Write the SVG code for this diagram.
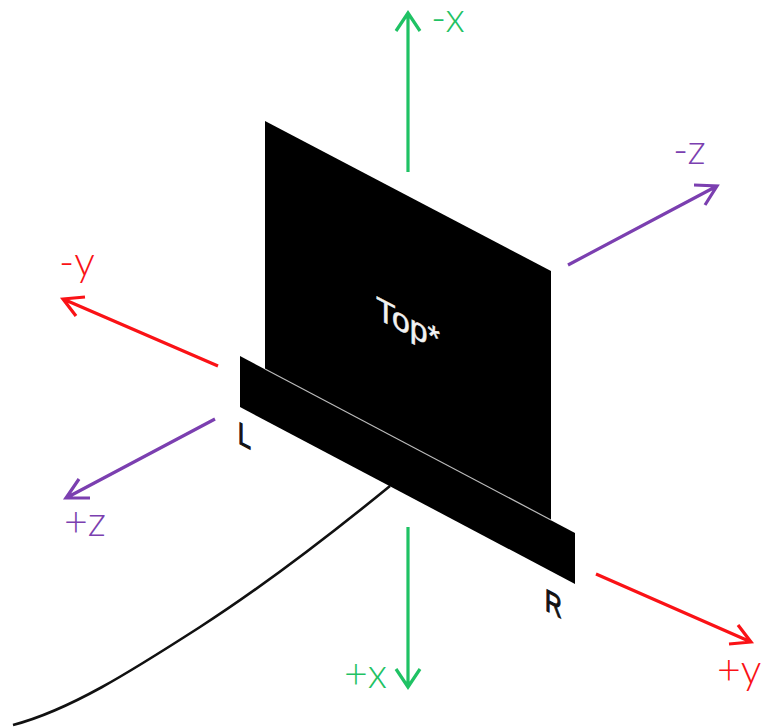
<svg xmlns="http://www.w3.org/2000/svg" width="761" height="727" viewBox="0 0 761 727">
<defs>
<style>
text{font-family:"Liberation Sans",Arimo,sans-serif}
.ax{fill:none;stroke-width:3.2;stroke-linecap:butt;stroke-linejoin:miter}
.g{stroke:#1fc264}.r{stroke:#fa1216}.p{stroke:#7b3fb0}
.tg{fill:#1fc264}.tr{fill:#fa1216}.tp{fill:#7b3fb0}
.l{font-family:Lato,"Open Sans",sans-serif;font-size:41px;font-weight:300}
.b{font-size:31px;font-weight:400;fill:#111;stroke:#111;stroke-width:1.2}
</style>
</defs>
<rect width="761" height="727" fill="#fff"/>
<g id="connectors">
<path class="ax g" d="M408 172V14M396 31L408 13L420 31"/>
<path class="ax g" d="M408 527V686M396 669L408 687L420 669"/>
<path class="ax p" d="M568 265L717 186M694 185L717 186L705 205"/>
<path class="ax p" d="M215 419L66 498M90 498L66 498L79 479"/>
<path class="ax r" d="M218 366L63 299M85 297L63 299L76 316"/>
<path class="ax r" d="M596 574L751 642M729 644L751 642L738 625"/>
<path d="M13 725C70 710 130 672 200 627C262 587 330 535 390 486" fill="none" stroke="#111" stroke-width="2.6"/>
</g>
<g id="top-panel">
<polygon points="265,121 551,271 551,521 265,371" fill="#000"/>
<text transform="matrix(1,.52,0,1,376,318)" font-size="32" fill="#f2f2f2" stroke="#f2f2f2" stroke-width=".5">Top*</text>
</g>
<g id="bar">
<polygon points="240,356 575,533 575,584 240,407" fill="#000"/>
<line x1="265" y1="369" x2="551" y2="520" stroke="#bbb" stroke-width="1.2"/>
<text class="b" transform="matrix(.75,.39,0,1,238,443)">L</text>
<text class="b" transform="matrix(.75,.39,0,1,545,610)">R</text>
</g>
<g id="axis-labels">
<text class="l tg" x="431" y="32">-x</text>
<text class="l tg" x="344" y="688">+x</text>
<text class="l tp" x="673" y="164">-z</text>
<text class="l tp" x="64" y="536">+z</text>
<text class="l tr" x="59" y="276">-y</text>
<text class="l tr" x="717" y="684">+y</text>
</g>
</svg>
